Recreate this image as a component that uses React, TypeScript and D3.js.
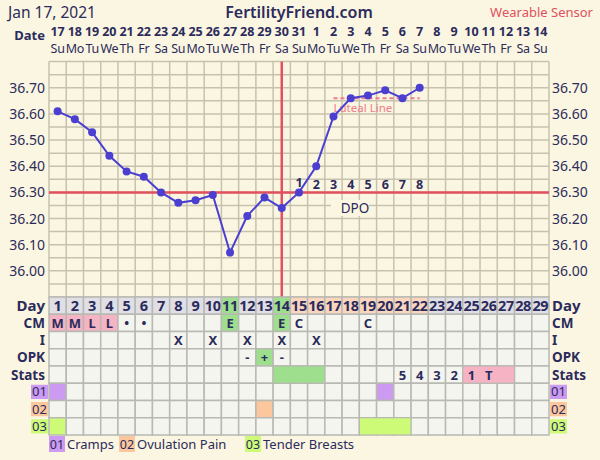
import * as d3 from "d3";

const dates = ["17","18","19","20","21","22","23","24","25","26","27","28","29","30","31","1","2","3","4","5","6","7","8","9","10","11","12","13","14"];
const weekdays = ["Su","Mo","Tu","We","Th","Fr","Sa"];
const temps = [36.61, 36.58, 36.53, 36.44, 36.38, 36.36, 36.30, 36.26, 36.27, 36.29, 36.07, 36.21, 36.28, 36.24, 36.30, 36.40, 36.59, 36.66, 36.67, 36.69, 36.66, 36.70];
const yTicks = [36.0, 36.1, 36.2, 36.3, 36.4, 36.5, 36.6, 36.7];
const coverline = 36.3;
const ovulationDay = 14;
const lutealLevel = 36.66;
const lutealDays = [17, 22];
const dpoDays = [15, 16, 17, 18, 19, 20, 21, 22];

const cmRow: Record<number, string> = { 1: "M", 2: "M", 3: "L", 4: "L", 5: "•", 6: "•", 11: "E", 14: "E", 15: "C", 19: "C" };
const cmColors: Record<number, string> = { 1: "pink", 2: "pink", 3: "pink", 4: "pink", 11: "green", 14: "green" };
const intercourse = [8, 10, 12, 14, 16];
const opk: Record<number, string> = { 12: "-", 13: "+", 14: "-" };
const opkColors: Record<number, string> = { 13: "green" };
const statsText: Record<number, string> = { 21: "5", 22: "4", 23: "3", 24: "2", 25: "1", 26: "T" };
const statsGreen = [14, 16];
const statsPink = [25, 27];
const sym01 = [1, 20];
const sym02 = [13];
const sym03 = [1, 19, 20, 21];
const dayGreen = [11, 14];
const dayPeach = [15, 22];
const legend = [["01", "Cramps"], ["02", "Ovulation Pain"], ["03", "Tender Breasts"]];

const BG = "#fbf6e1";
const INK = "#2b2b5c";
const RED = "#e0505e";
const GRID = "#c6c2ad";
const CELL = "#f5f5ef";
const CELLLINE = "#b9b9b4";
const FILL: Record<string, string> = { pink: "#f5b3c3", green: "#9ddf8c", peach: "#fad6be", gray: "#dfdfe5", purple: "#cc9af0", orange: "#fcc79c", lime: "#cdfb78" };
const FONT = "'Noto Sans', 'DejaVu Sans', sans-serif";

export default function App() {
  const days = d3.range(1, 30);
  const x = d3.scaleBand<number>().domain(days).range([49, 549]);
  const bw = x.bandwidth();
  const cx = (d: number) => (x(d) ?? 0) + bw / 2;
  const y = d3.scaleLinear().domain([35.9, 36.8]).range([297, 61.6]);
  const hLines = d3.range(0, 19).map((i) => 35.9 + i * 0.05);

  const line = d3.line<number>().x((_, i) => cx(i + 1)).y((d) => y(d));

  const tableTop = 297;
  const rowH = 17.25;
  const rowLabels = ["Day", "CM", "I", "OPK", "Stats"];
  const symRows = [
    { code: "01", color: FILL.purple, days: sym01 },
    { code: "02", color: FILL.orange, days: sym02 },
    { code: "03", color: FILL.lime, days: sym03 },
  ];
  const rowY = (r: number) => tableTop + r * rowH;

  const cellFill = (r: number, d: number): string => {
    if (r === 0) {
      if (dayGreen.includes(d)) return FILL.green;
      if (d >= dayPeach[0] && d <= dayPeach[1]) return FILL.peach;
      return FILL.gray;
    }
    if (r === 1 && cmColors[d]) return FILL[cmColors[d]];
    if (r === 3 && opkColors[d]) return FILL[opkColors[d]];
    if (r === 4) {
      if (d >= statsGreen[0] && d <= statsGreen[1]) return FILL.green;
      if (d >= statsPink[0] && d <= statsPink[1]) return FILL.pink;
    }
    if (r >= 5) {
      const s = symRows[r - 5];
      if (s.days.includes(d)) return s.color;
    }
    return CELL;
  };
  const cellText = (r: number, d: number): string => {
    if (r === 0) return String(d);
    if (r === 1) return cmRow[d] ?? "";
    if (r === 2) return intercourse.includes(d) ? "X" : "";
    if (r === 3) return opk[d] ?? "";
    if (r === 4) return statsText[d] ?? "";
    return "";
  };

  const legendX = [49, 119, 245];

  return (
    <svg width={600} height={460} style={{ position: "fixed", left: 0, top: 0 }} fontFamily={FONT}>
      <rect width={600} height={460} fill={BG} />
      {/* header */}
      <text x={8} y={18} fontSize={15.5} fill={INK}>Jan 17, 2021</text>
      <text x={299} y={18} fontSize={16} fill={INK} textAnchor="middle" fontWeight={600}>FertilityFriend.com</text>
      <text x={593} y={17} fontSize={13} fill={RED} textAnchor="end">Wearable Sensor</text>
      <text x={45} y={40} fontSize={13} fill={INK} textAnchor="end" fontWeight="bold">Date</text>
      {days.map((d, i) => (
        <g key={"dt" + d}>
          <text x={cx(d)} y={36} fontSize={12.5} fill={INK} textAnchor="middle" fontWeight="bold">{dates[i]}</text>
          <text x={cx(d)} y={53} fontSize={12.5} fill={INK} textAnchor="middle" letterSpacing={-0.3}>{weekdays[i % 7]}</text>
        </g>
      ))}

      {/* chart grid */}
      <g stroke={GRID} strokeWidth={1.5}>
        {hLines.map((v, i) => (
          <line key={"h" + i} x1={49} x2={549} y1={y(v)} y2={y(v)} />
        ))}
        {days.concat([30]).map((d) => {
          const xx = d === 30 ? 549 : x(d) ?? 0;
          return <line key={"v" + d} x1={xx} x2={xx} y1={y(36.8)} y2={y(35.9)} />;
        })}
      </g>
      {yTicks.map((t) => (
        <g key={"yt" + t}>
          <text x={45} y={y(t) + 5} fontSize={14} fill={INK} textAnchor="end">{t.toFixed(2)}</text>
          <text x={552} y={y(t) + 5} fontSize={14} fill={INK}>{t.toFixed(2)}</text>
        </g>
      ))}

      {/* DPO label */}
      <rect x={331} y={200} width={38} height={16} fill={BG} />
      <text x={355} y={213} fontSize={13.5} fill={INK} textAnchor="middle">DPO</text>

      {/* cover and ovulation lines */}
      <line x1={49} x2={549} y1={y(coverline)} y2={y(coverline)} stroke={RED} strokeWidth={2.5} />
      <line x1={cx(ovulationDay)} x2={cx(ovulationDay)} y1={y(36.8)} y2={y(35.9)} stroke={RED} strokeWidth={2.5} />

      {/* luteal line */}
      <line x1={cx(lutealDays[0])} x2={cx(lutealDays[1])} y1={y(lutealLevel)} y2={y(lutealLevel)} stroke="#f07c8c" strokeWidth={2} strokeDasharray="4,3" />
      <text x={cx(lutealDays[0])} y={y(lutealLevel) + 14} fontSize={11.5} fill="#f07c8c">Luteal Line</text>

      {/* temperature line */}
      <path d={line(temps) ?? ""} fill="none" stroke="#4a3fd0" strokeWidth={2} />
      {temps.map((t, i) => (
        <circle key={"p" + i} cx={cx(i + 1)} cy={y(t)} r={4} fill="#4a3fd0" />
      ))}

      {/* DPO numbers */}
      {dpoDays.map((d, i) => (
        <text key={"dpo" + d} x={cx(d)} y={i === 0 ? 187 : 189} fontSize={12.5} fill={INK} textAnchor="middle" fontWeight="bold">{i + 1}</text>
      ))}

      {/* table */}
      {d3.range(0, 8).map((r) => (
        <g key={"row" + r}>
          {days.map((d) => {
            const t = cellText(r, d);
            return (
              <g key={"c" + r + "-" + d}>
                <rect x={x(d)} y={rowY(r)} width={bw} height={rowH} fill={cellFill(r, d)} stroke={CELLLINE} strokeWidth={1.5} />
                {t && (
                  <text x={cx(d)} y={rowY(r) + rowH / 2 + 5} fontSize={r === 0 ? 14.5 : 13} fill={INK} textAnchor="middle" fontWeight="bold" letterSpacing={r === 0 ? -0.3 : 0}>{t}</text>
                )}
              </g>
            );
          })}
        </g>
      ))}
      {/* merged stats blocks overlay */}
      <rect x={(x(statsGreen[0]) ?? 0) + 0.75} y={rowY(4) + 0.75} width={bw * (statsGreen[1] - statsGreen[0] + 1) - 1.5} height={rowH - 1.5} fill={FILL.green} />
      <rect x={(x(statsPink[0]) ?? 0) + 0.75} y={rowY(4) + 0.75} width={bw * (statsPink[1] - statsPink[0] + 1) - 1.5} height={rowH - 1.5} fill={FILL.pink} />
      {[25, 26].map((d) => (
        <text key={"st" + d} x={cx(d)} y={rowY(4) + rowH / 2 + 5} fontSize={13} fill={INK} textAnchor="middle" fontWeight="bold">{statsText[d]}</text>
      ))}
      {/* merged symptom 03 */}
      <rect x={(x(19) ?? 0) + 0.75} y={rowY(7) + 0.75} width={bw * 3 - 1.5} height={rowH - 1.5} fill={FILL.lime} />

      {rowLabels.map((lab, r) => (
        <g key={"rl" + lab}>
          <text x={45} y={rowY(r) + rowH / 2 + 5} fontSize={r === 0 ? 15 : 13.5} fill={INK} textAnchor="end" fontWeight="bold">{lab}</text>
          <text x={552} y={rowY(r) + rowH / 2 + 5} fontSize={r === 0 ? 15 : 13.5} fill={INK} fontWeight="bold">{lab}</text>
        </g>
      ))}
      {symRows.map((s, i) => (
        <g key={"sl" + s.code}>
          <rect x={31} y={rowY(5 + i) + 1.5} width={17} height={rowH - 3} fill={s.color} />
          <text x={39.5} y={rowY(5 + i) + rowH / 2 + 4.5} fontSize={13} fill={INK} textAnchor="middle">{s.code}</text>
          <rect x={550} y={rowY(5 + i) + 1.5} width={17} height={rowH - 3} fill={s.color} />
          <text x={558.5} y={rowY(5 + i) + rowH / 2 + 4.5} fontSize={13} fill={INK} textAnchor="middle">{s.code}</text>
        </g>
      ))}

      {/* legend */}
      {legend.map(([code, name], i) => (
        <g key={"lg" + code}>
          <rect x={legendX[i]} y={436} width={16} height={16} fill={symRows[i].color} />
          <text x={legendX[i] + 8} y={448.5} fontSize={12.5} fill={INK} textAnchor="middle">{code}</text>
          <text x={legendX[i] + 18} y={449} fontSize={13} fill={INK}>{name}</text>
        </g>
      ))}
    </svg>
  );
}
